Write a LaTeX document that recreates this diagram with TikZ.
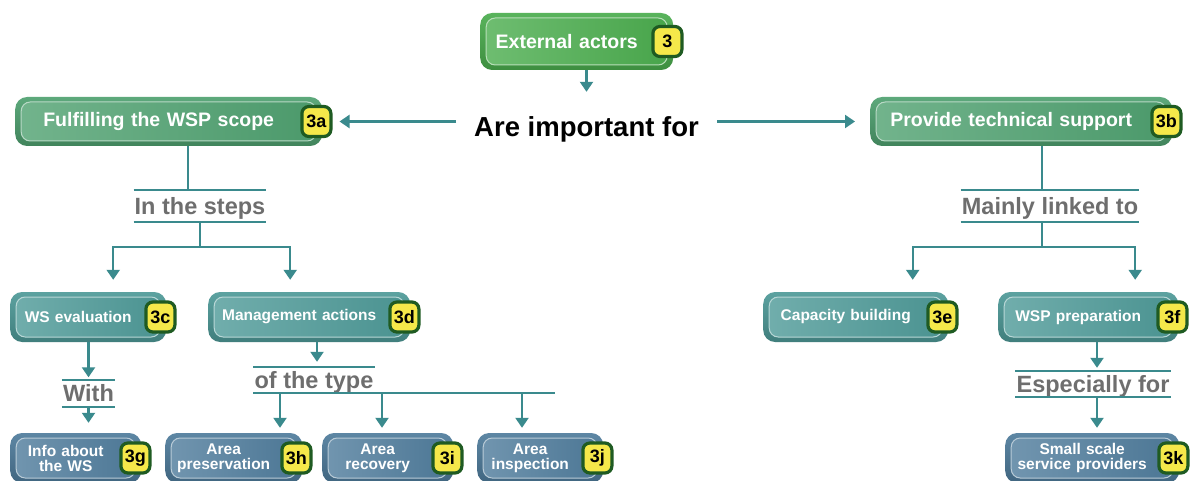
\documentclass[tikz,border=0pt]{standalone}
\usepackage{fontspec}
\setmainfont{Liberation Sans}
\usetikzlibrary{arrows.meta, positioning}
\usepackage{xcolor}
\definecolor{topgreen}{HTML}{4BAD4E}
\definecolor{scopegreen}{HTML}{4FA170}
\definecolor{stageteal}{HTML}{4E9A98}
\definecolor{leafblue}{HTML}{4F7C9C}
\definecolor{badgefill}{HTML}{F5E84A}
\definecolor{badgeline}{HTML}{1F5B22}
\definecolor{lineteal}{HTML}{3A8A8D}
\definecolor{tagtext}{HTML}{6E6E6E}

\begin{document}
\begin{tikzpicture}[x=1pt, y=-1pt, >={Triangle[width=13pt,length=10pt]},
  card/.style 2 args={rectangle, rounded corners=12pt, top color=#1!92!white, bottom color=#1!82!black, anchor=west,
    minimum width=#2pt, text width=#2pt-4pt, align=center, inner xsep=2pt, inner ysep=2pt,
    text=white, font=\fontsize{15.5}{15}\selectfont\bfseries,
    execute at begin node={\advance\rightskip by 20pt},
    path picture={\draw[line width=1pt, draw=white!60!#1, rounded corners=9pt, left color=#1!80!white, right color=#1!95!black]
      ([shift={(6pt,5pt)}]path picture bounding box.south west) rectangle ([shift={(-6pt,-5pt)}]path picture bounding box.north east);}},
  head/.style={card={topgreen}{#1}, minimum height=57pt, font=\fontsize{19.5}{21}\selectfont\bfseries},
  scope/.style={card={scopegreen}{#1}, minimum height=49pt, font=\fontsize{19.5}{21}\selectfont\bfseries},
  stage/.style={card={stageteal}{#1}, minimum height=50pt},
  leaf/.style={card={leafblue}{#1}, minimum height=50pt},
  badge/.style={rectangle, rounded corners=7pt, fill=badgefill, draw=badgeline, line width=3.2pt,
    minimum width=29pt, minimum height=30pt, inner sep=0pt, font=\fontsize{18}{18}\selectfont\bfseries},
  linktag/.style={text=tagtext, font=\fontsize{23.5}{26}\selectfont\bfseries, text height=18pt, text depth=2pt,
    inner ysep=3pt, inner xsep=1pt},
  rule/.style={draw=lineteal, line width=2pt},
  wire/.style={draw=lineteal, line width=2.2pt},
  arr/.style={wire, ->, lineteal}]
  \useasboundingbox[fill=white] (0,0) rectangle (1190,481);

  % top level
  \node[head=193] (ext) at (480,41.5) {External actors};
  \node[badge] (b3) at ([xshift=-6pt]ext.east) {3};
  \node[font=\fontsize{27.5}{30}\selectfont\bfseries, text height=20pt, text depth=6pt,
    inner ysep=25pt, inner xsep=18pt] (imp) at (586.5,130) {Are important for};

  \node[scope=307] (fws) at (15,121.5) {Fulfilling the WSP scope};
  \node[badge] (b3a) at ([xshift=-6pt]fws.east) {3a};
  \node[scope=302] (tsup) at (870,121.5) {Provide technical support};
  \node[badge] (b3b) at ([xshift=-6pt]tsup.east) {3b};

  % link words
  \node[linktag, minimum height=32pt] (steps) at (200,206) {In the steps};
  \node[linktag, minimum height=32pt] (linked) at (1050,206) {Mainly linked to};
  \node[linktag] (with) at (88.5,393.5) {With};
  \node[linktag] (type) at (314,380) {of the type};
  \node[linktag] (esp) at (1093,384) {Especially for};

  % second row
  \node[stage=156] (wse) at (10,317) {WS evaluation};
  \node[badge] (b3c) at ([xshift=-6pt]wse.east) {3c};
  \node[stage=202] (mact) at (208,317) {Management actions};
  \node[badge] (b3d) at ([xshift=-6pt]mact.east) {3d};
  \node[stage=185] (capb) at (763,317) {Capacity building};
  \node[badge] (b3e) at ([xshift=-6pt]capb.east) {3e};
  \node[stage=180] (wspp) at (998,317) {WSP preparation};
  \node[badge] (b3f) at ([xshift=-6pt]wspp.east) {3f};

  % third row
  \node[leaf=131] (info) at (10,458) {Info about\\the WS};
  \node[badge] (b3g) at ([xshift=-6pt]info.east) {3g};
  \node[leaf=137] (apres) at (165,458) {Area\\preservation};
  \node[badge] (b3h) at ([xshift=-6pt]apres.east) {3h};
  \node[leaf=131] (arec) at (322,458) {Area\\recovery};
  \node[badge] (b3i) at ([xshift=-6pt]arec.east) {3i};
  \node[leaf=126] (ains) at (477,458) {Area\\inspection};
  \node[badge] (b3j) at ([xshift=-6pt]ains.east) {3j};
  \node[leaf=174] (ssp) at (1005,458) {Small scale\\service providers};
  \node[badge] (b3k) at ([xshift=-6pt]ssp.east) {3k};

  % rules round the link words
  \foreach \n in {steps, linked, with, type, esp}
    \draw[rule] (\n.north west) -- (\n.north east) (\n.south west) -- (\n.south east);
  \draw[rule] (type.south east) -- (type.south -| 555,0);

  % connectors
  \draw[arr] (imp.north |- ext.south) -- (imp.north);
  \draw[arr, shorten >=7pt] (imp.west |- fws.east) -- (b3a.east |- fws.east);
  \draw[arr, shorten >=15pt] (imp.east |- tsup.west) -- (tsup.west);

  \draw[wire] ([xshift=-12pt]steps.north) -- ([xshift=-12pt]steps.north |- fws.south);
  \draw[wire] (steps.south) -- ++(0,25) coordinate (sj);
  \draw[arr, shorten >=12pt] (sj) -| ([xshift=25pt]wse.north);
  \draw[arr, shorten >=12pt] (sj) -| ([xshift=-19pt]mact.north);

  \draw[wire] ([xshift=-8pt]linked.north) -- ([xshift=-8pt]linked.north |- tsup.south);
  \draw[wire] ([xshift=-8pt]linked.south) -- ++(0,25) coordinate (lj);
  \draw[arr, shorten >=12pt] (lj) -| ([xshift=57pt]capb.north);
  \draw[arr, shorten >=12pt] (lj) -| ([xshift=47pt]wspp.north);

  \draw[arr, shorten >=3pt] (with.north |- wse.south) -- (with.north);
  \draw[arr, shorten >=10pt] (with.south) -- (with.south |- info.north);
  \draw[arr, shorten >=5pt] ([xshift=3pt]type.north |- mact.south) -- ([xshift=3pt]type.north);
  \foreach \x/\n in {280/apres, 382/arec, 522/ains}
    \draw[arr, shorten >=5pt] (type.south -| \x,0) -- (\n.north -| \x,0);
  \draw[arr, shorten >=3pt] ([xshift=4pt]esp.north |- wspp.south) -- ([xshift=4pt]esp.north);
  \draw[arr, shorten >=5pt] ([xshift=4pt]esp.south) -- ([xshift=4pt]esp.south |- ssp.north);
\end{tikzpicture}
\end{document}
